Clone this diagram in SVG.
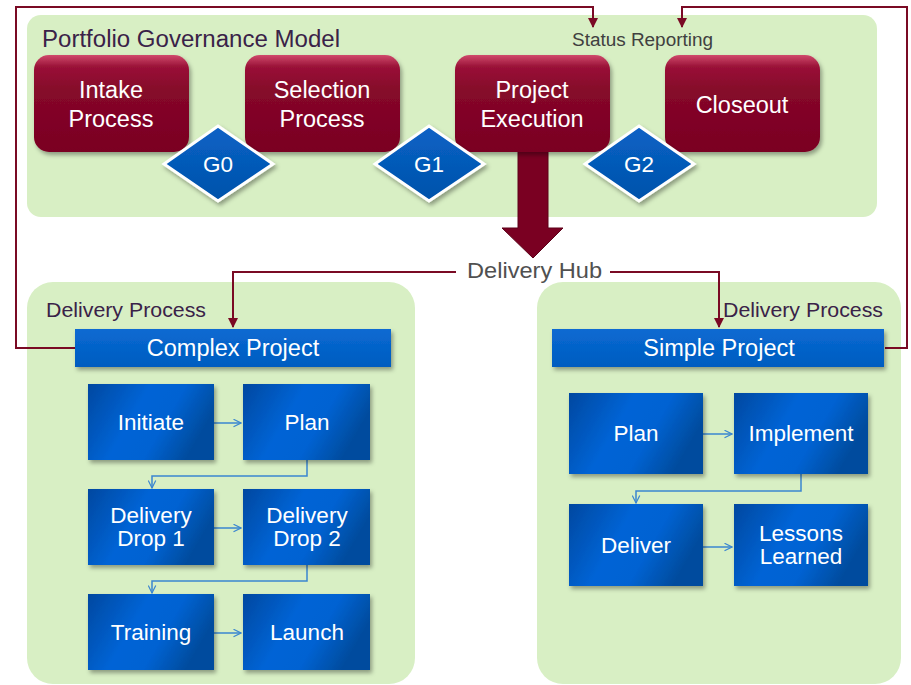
<svg xmlns="http://www.w3.org/2000/svg" width="911" height="685" viewBox="0 0 911 685">
  <defs>
    <linearGradient id="redFill" x1="0" y1="0" x2="0" y2="1">
      <stop offset="0" stop-color="#d04a6c"/>
      <stop offset="0.12" stop-color="#9a1238"/>
      <stop offset="0.35" stop-color="#86082a"/>
      <stop offset="1" stop-color="#7a0022"/>
    </linearGradient>
    <linearGradient id="blueFill" x1="0" y1="0" x2="1" y2="0.35">
      <stop offset="0" stop-color="#0048a0"/>
      <stop offset="0.45" stop-color="#0064d6"/>
      <stop offset="0.7" stop-color="#0062d2"/>
      <stop offset="1" stop-color="#004c9e"/>
    </linearGradient>
    <linearGradient id="barFill" x1="0" y1="0" x2="0" y2="1">
      <stop offset="0" stop-color="#0a6ad2"/>
      <stop offset="1" stop-color="#005cc0"/>
    </linearGradient>
    <linearGradient id="gateFill" x1="0" y1="0" x2="0" y2="1">
      <stop offset="0" stop-color="#0a62c6"/>
      <stop offset="1" stop-color="#0052aa"/>
    </linearGradient>
    <filter id="shadow" x="-20%" y="-20%" width="140%" height="150%">
      <feDropShadow dx="2" dy="3" stdDeviation="2" flood-color="#000" flood-opacity="0.35"/>
    </filter>
    <marker id="redHead" viewBox="0 0 10 10" refX="9" refY="5" markerWidth="5" markerHeight="5" orient="auto">
      <path d="M0,0 L10,5 L0,10 z" fill="#7a0a24"/>
    </marker>
    <marker id="blueHead" viewBox="0 0 12 12" refX="11" refY="6" markerWidth="9" markerHeight="9" markerUnits="userSpaceOnUse" orient="auto">
      <path d="M1,1 L11,6 L1,11" fill="none" stroke="#3a86d0" stroke-width="1.6"/>
    </marker>
    <style>
      .panel { fill: #d8efc4; }
      .phase { fill: url(#redFill); filter: url(#shadow); }
      .gate { fill: url(#gateFill); stroke: #ffffff; stroke-width: 3; filter: url(#shadow); }
      .step { fill: url(#blueFill); filter: url(#shadow); }
      .bar { fill: url(#barFill); filter: url(#shadow); }
      .wt { font-family: "Liberation Sans", Arial, sans-serif; fill: #ffffff; text-anchor: middle; }
      .big { font-size: 23.5px; }
      .mid { font-size: 22.5px; }
      .hdr { font-family: "Liberation Sans", Arial, sans-serif; fill: #3a2248; }
      .feed { fill: none; stroke: #7a0a24; stroke-width: 2; }
      .flow { fill: none; stroke: #3a86d0; stroke-width: 1.5; }
    </style>
  </defs>

  <rect width="911" height="685" fill="#ffffff"/>

  <!-- background panels -->
  <g id="governance-panel">
    <rect class="panel" x="27" y="15" width="850" height="202" rx="14"/>
    <text class="hdr" x="42" y="47" font-size="23" textLength="298" lengthAdjust="spacingAndGlyphs">Portfolio Governance Model</text>
    <text x="572" y="46" font-family="Liberation Sans, Arial, sans-serif" font-size="18" fill="#404040" textLength="141" lengthAdjust="spacingAndGlyphs">Status Reporting</text>
  </g>
  <g id="complex-panel">
    <rect class="panel" x="27" y="282" width="388" height="402" rx="26"/>
    <text class="hdr" x="46" y="317" font-size="20" textLength="160" lengthAdjust="spacingAndGlyphs">Delivery Process</text>
  </g>
  <g id="simple-panel">
    <rect class="panel" x="537" y="282" width="364" height="402" rx="26"/>
    <text class="hdr" x="723" y="317" font-size="20" textLength="160" lengthAdjust="spacingAndGlyphs">Delivery Process</text>
  </g>

  <!-- connectors -->
  <g id="connectors">
    <!-- status reporting feedback loops -->
    <polyline class="feed" points="75,348 16,348 16,7 593,7 593,27" marker-end="url(#redHead)"/>
    <polyline class="feed" points="885,348 907,348 907,7 682,7 682,27" marker-end="url(#redHead)"/>
    <!-- delivery hub branches -->
    <polyline class="feed" points="456,272 233,272 233,327" marker-end="url(#redHead)"/>
    <polyline class="feed" points="610,272 719,272 719,327" marker-end="url(#redHead)"/>
    <!-- hand-off arrow from execution -->
    <path d="M518,150 L548,150 L548,228 L563,228 L533,258 L502,228 L518,228 z" fill="#7a0022" stroke="#5c0018" stroke-width="1"/>
    <!-- complex project steps -->
    <line class="flow" x1="214" y1="423" x2="241" y2="423" marker-end="url(#blueHead)"/>
    <polyline class="flow" points="307,460 307,476 152,476 152,488" marker-end="url(#blueHead)"/>
    <line class="flow" x1="214" y1="528" x2="241" y2="528" marker-end="url(#blueHead)"/>
    <polyline class="flow" points="307,565 307,581 152,581 152,593" marker-end="url(#blueHead)"/>
    <line class="flow" x1="214" y1="633" x2="241" y2="633" marker-end="url(#blueHead)"/>
    <!-- simple project steps -->
    <line class="flow" x1="703" y1="434" x2="732" y2="434" marker-end="url(#blueHead)"/>
    <polyline class="flow" points="801,474 801,491 636,491 636,503" marker-end="url(#blueHead)"/>
    <line class="flow" x1="703" y1="547" x2="732" y2="547" marker-end="url(#blueHead)"/>
  </g>

  <text x="534.5" y="278" font-family="Liberation Sans, Arial, sans-serif" font-size="22" fill="#505050" text-anchor="middle" textLength="135" lengthAdjust="spacingAndGlyphs">Delivery Hub</text>

  <!-- governance phases -->
  <g id="intake">
    <rect class="phase" x="34" y="55" width="155" height="97" rx="15"/>
    <text class="wt big" x="111" y="98">Intake</text>
    <text class="wt big" x="111" y="127">Process</text>
  </g>
  <g id="selection">
    <rect class="phase" x="245" y="55" width="155" height="97" rx="15"/>
    <text class="wt big" x="322" y="98">Selection</text>
    <text class="wt big" x="322" y="127">Process</text>
  </g>
  <g id="execution">
    <rect class="phase" x="455" y="55" width="155" height="97" rx="15"/>
    <text class="wt big" x="532" y="98">Project</text>
    <text class="wt big" x="532" y="127">Execution</text>
  </g>
  <g id="closeout">
    <rect class="phase" x="665" y="55" width="155" height="97" rx="15"/>
    <text class="wt big" x="742" y="113">Closeout</text>
  </g>

  <!-- gates -->
  <g id="g0">
    <polygon class="gate" points="218,126 273,164 218,201 164,164"/>
    <text class="wt mid" x="218" y="172">G0</text>
  </g>
  <g id="g1">
    <polygon class="gate" points="429,126 484,164 429,201 375,164"/>
    <text class="wt mid" x="429" y="172">G1</text>
  </g>
  <g id="g2">
    <polygon class="gate" points="639,126 694,164 639,201 585,164"/>
    <text class="wt mid" x="639" y="172">G2</text>
  </g>

  <!-- complex project -->
  <g id="complex-project">
    <rect class="bar" x="75" y="329" width="316" height="38"/>
    <text class="wt big" x="233" y="356">Complex Project</text>
  </g>
  <g id="initiate">
    <rect class="step" x="88" y="384" width="126" height="76"/>
    <text class="wt mid" x="151" y="430">Initiate</text>
  </g>
  <g id="plan-c">
    <rect class="step" x="243" y="384" width="127" height="76"/>
    <text class="wt mid" x="307" y="430">Plan</text>
  </g>
  <g id="drop1">
    <rect class="step" x="88" y="489" width="126" height="76"/>
    <text class="wt mid" x="151" y="523">Delivery</text>
    <text class="wt mid" x="151" y="546">Drop 1</text>
  </g>
  <g id="drop2">
    <rect class="step" x="243" y="489" width="127" height="76"/>
    <text class="wt mid" x="307" y="523">Delivery</text>
    <text class="wt mid" x="307" y="546">Drop 2</text>
  </g>
  <g id="training">
    <rect class="step" x="88" y="594" width="126" height="76"/>
    <text class="wt mid" x="151" y="640">Training</text>
  </g>
  <g id="launch">
    <rect class="step" x="243" y="594" width="127" height="76"/>
    <text class="wt mid" x="307" y="640">Launch</text>
  </g>

  <!-- simple project -->
  <g id="simple-project">
    <rect class="bar" x="552" y="329" width="332" height="38"/>
    <text class="wt big" x="719" y="356">Simple Project</text>
  </g>
  <g id="plan-s">
    <rect class="step" x="569" y="393" width="134" height="81"/>
    <text class="wt mid" x="636" y="441">Plan</text>
  </g>
  <g id="implement">
    <rect class="step" x="734" y="393" width="134" height="81"/>
    <text class="wt mid" x="801" y="441">Implement</text>
  </g>
  <g id="deliver">
    <rect class="step" x="569" y="504" width="134" height="82"/>
    <text class="wt mid" x="636" y="553">Deliver</text>
  </g>
  <g id="lessons">
    <rect class="step" x="734" y="504" width="134" height="82"/>
    <text class="wt mid" x="801" y="541">Lessons</text>
    <text class="wt mid" x="801" y="564">Learned</text>
  </g>
</svg>
